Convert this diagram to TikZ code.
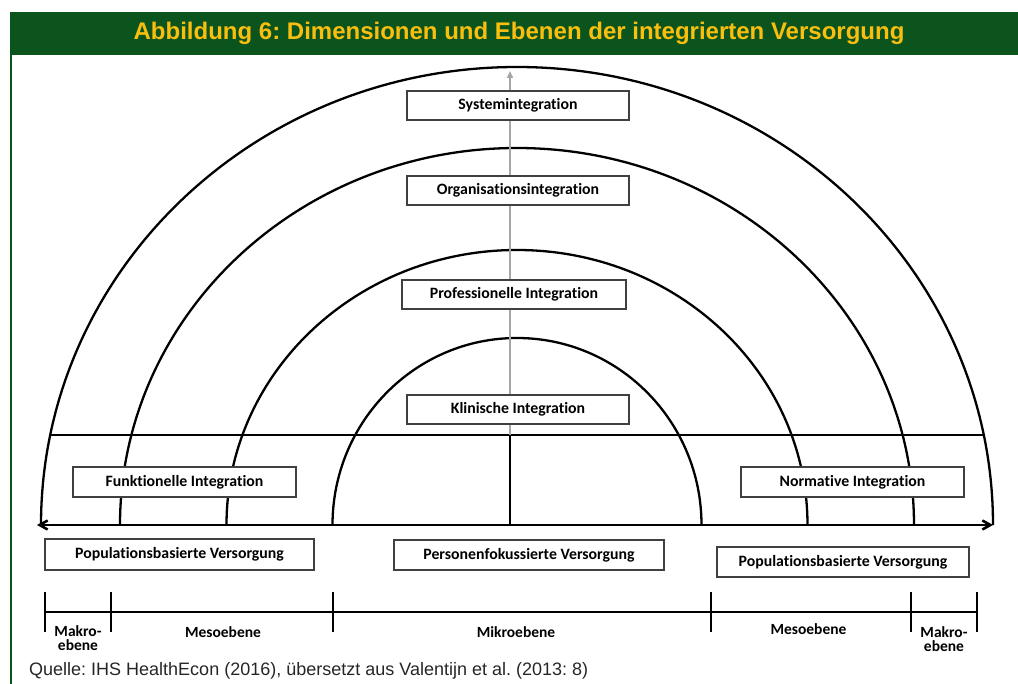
\documentclass[tikz,border=0pt]{standalone}
\usepackage{fontspec}
\setmainfont{Carlito}[Ligatures=NoCommon]
\newfontfamily\arialfont{Liberation Sans}
\usetikzlibrary{arrows.meta}
\frenchspacing

\definecolor{bargreen}{RGB}{11,84,30}
\definecolor{baryellow}{RGB}{250,190,15}

\tikzset{
  box/.style={draw=black!75, line width=1.1pt, fill=white, minimum height=29pt,
    inner sep=0pt, font=\bfseries\fontsize{15.8}{17}\selectfont},
  ring/.style={line width=2.3pt},
  level/.style={align=center, inner sep=0pt, font=\bfseries\fontsize{15.5}{14}\selectfont},
}

\begin{document}
\begin{tikzpicture}[x=1pt,y=-1pt]
  \useasboundingbox (0,0) rectangle (1018,684);
  \coordinate (O) at (517,525);

  % title bar
  \fill[bargreen] (10,12) rectangle (1018,55);
  \node[anchor=base, text=baryellow, font=\arialfont\bfseries\fontsize{24}{28}\selectfont]
    (title) at (519,40) {Abbildung 6: Dimensionen und Ebenen der integrierten Versorgung};
  % frame line on the left
  \draw[bargreen, line width=2pt] (11,55) -- (11,684);

  % rings
  \foreach \rx/\ry in {476/458, 397/377, 290.5/275, 184.5/187}
    \draw[ring] (O) ++(-\rx,0) arc [start angle=180, end angle=0, x radius=\rx pt, y radius=\ry pt];

  % horizontal line through the rings
  \pgfmathsetmacro{\hx}{476*sqrt(1-(90/458)^2)}
  \coordinate (hL) at (517-\hx,435);
  \coordinate (hR) at (517+\hx,435);
  \coordinate (mid) at (510,435);
  \coordinate (base) at (510,525);
  \coordinate (apex) at (510,71);
  \draw[line width=2.6pt] (hL) -- (hR);
  \draw[line width=2.6pt] (mid) -- (base);
  \draw[black!35, line width=1.8pt, -{Triangle[length=7pt,width=6pt]}] (mid) -- (apex);

  % axis
  \coordinate (axisL) at (37,525);
  \coordinate (axisR) at (993,525);
  \draw[line width=2.6pt, {Straight Barb[length=8pt,width=9pt]}-{Straight Barb[length=8pt,width=9pt]}] (axisL) -- (axisR);

  % integration boxes
  \node[box, minimum width=222pt] (sys)  at (518,105.5) {Systemintegration};
  \node[box, minimum width=222pt] (org)  at (518,190.5) {Organisationsintegration};
  \node[box, minimum width=224pt] (prof) at (514,294.5) {Professionelle Integration};
  \node[box, minimum width=222pt] (klin) at (518,409.5) {Klinische Integration};
  \node[box, minimum width=223pt, minimum height=30pt] (funk) at (184.5,482) {Funktionelle Integration};
  \node[box, minimum width=223pt, minimum height=30pt] (norm) at (852.5,482) {Normative Integration};

  % care boxes
  \node[box, minimum width=269pt, minimum height=31pt] (popL) at (179.5,554.5) {Populationsbasierte Versorgung};
  \node[box, minimum width=270pt, minimum height=30pt] (pers) at (529,555) {Personenfokussierte Versorgung};
  \node[box, minimum width=252pt, minimum height=30pt] (popR) at (843,562) {Populationsbasierte Versorgung};

  % scale of levels
  \draw[line width=2.6pt] (45,612) -- (977,612);
  \foreach \x in {45,111,333,711,911,977}
    \draw[line width=2.6pt] (\x,592) -- (\x,632);
  \node[level] (makroL) at (78,638) {Makro-\\ebene};
  \node[level] (mesoL)  at (223,632) {Mesoebene};
  \node[level] (mikro)  at (516,632) {Mikroebene};
  \node[level] (mesoR)  at (808.5,629) {Mesoebene};
  \node[level] (makroR) at (944,639) {Makro-\\ebene};

  % source
  \node[anchor=base west, inner sep=0pt, text=black!85, font=\arialfont\fontsize{18}{20}\selectfont]
    (source) at (29,675) {Quelle: IHS HealthEcon (2016), übersetzt aus Valentijn et al. (2013: 8)};
\end{tikzpicture}
\end{document}
